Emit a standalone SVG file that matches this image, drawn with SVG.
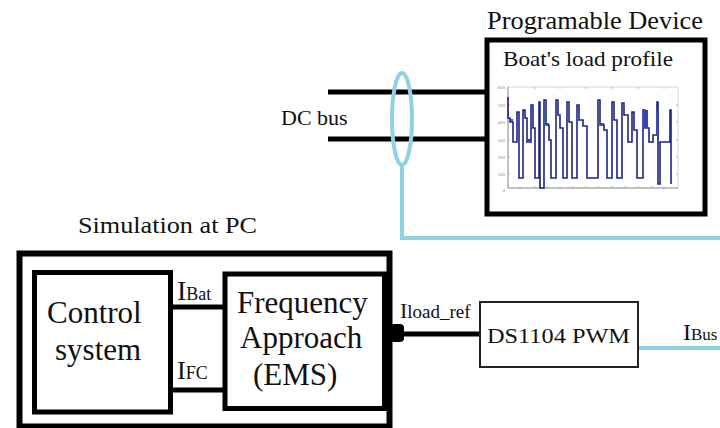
<svg xmlns="http://www.w3.org/2000/svg" width="720" height="428" viewBox="0 0 720 428" font-family="'Liberation Serif', 'Times New Roman', Tinos, 'DejaVu Serif', serif">
<style>
  text { font-family: "Liberation Serif", "Times New Roman", Tinos, "DejaVu Serif", serif; fill: #111; }
  .thick { fill: none; stroke: #000; stroke-width: 5; }
  .wire { stroke: #000; stroke-width: 5; fill: none; }
  .blue { stroke: #8fd2e4; stroke-width: 4; fill: none; }
  .tick { font-size: 5px; fill: #888; }
</style>
<rect width="720" height="428" fill="#fff"/>

<g id="programable-device">
  <text x="487" y="29" font-size="26" textLength="216" lengthAdjust="spacingAndGlyphs">Programable Device</text>
  <rect x="487" y="40" width="218" height="174" class="thick"/>
  <text x="503" y="66" font-size="21" textLength="170" lengthAdjust="spacingAndGlyphs">Boat's load profile</text>
  <g id="load-chart">
    <rect x="508" y="87" width="170" height="101" fill="none" stroke="#d4d4d4" stroke-width="1"/>
    <path d="M508,87 V188 H678" fill="none" stroke="#999" stroke-width="1"/>
    <g stroke="#aaa" stroke-width="0.8">
      <path d="M508,105 h2 M508,122 h2 M508,140 h2 M508,157 h2 M508,174 h2"/>
      <path d="M676,105 h2 M676,122 h2 M676,140 h2 M676,157 h2 M676,174 h2"/>
      <path d="M520,188 v-2 M535,188 v-2 M547,188 v-2 M560,188 v-2 M573,188 v-2 M586,188 v-2 M598,188 v-2 M612,188 v-2 M625,188 v-2 M638,188 v-2 M652,188 v-2 M664,188 v-2"/>
      <path d="M535,87 v2 M560,87 v2 M586,87 v2 M612,87 v2 M638,87 v2 M664,87 v2"/>
    </g>
    <g text-anchor="end">
      <text class="tick" x="505" y="89">600</text>
      <text class="tick" x="505" y="107">500</text>
      <text class="tick" x="505" y="124">400</text>
      <text class="tick" x="505" y="142">300</text>
      <text class="tick" x="505" y="159">200</text>
      <text class="tick" x="505" y="176">100</text>
      <text class="tick" x="505" y="192">0</text>
    </g>
    <polyline fill="none" stroke="#1c2580" stroke-width="1.6" points="508,97 508,118 510,118 510,122 513,122 513,142 517,142 517,112 519,112 519,178 523,178 523,110 525,110 525,118 527,118 527,142 531,142 531,105 533,105 533,128 535,128 535,178 539,178 539,102 540,102 540,188 544,188 544,100 546,100 546,125 549,125 549,140 551,140 551,178 556,178 556,100 558,100 558,115 560,115 560,128 563,128 563,178 567,178 567,102 569,102 569,122 572,122 572,178 577,178 577,105 579,105 579,120 583,120 583,126 587,126 587,178 598,178 598,100 600,100 600,125 604,125 604,130 607,130 607,178 612,178 612,102 614,102 614,120 617,120 617,178 622,178 622,103 624,103 624,115 628,115 628,142 632,142 632,112 634,112 634,130 637,130 637,178 643,178 643,110 645,110 645,128 649,128 649,142 653,142 653,135 657,135 657,102 658,102 658,184 660,184 660,142 670,142 670,110 671,110 671,184"/>
    <path d="M510,120 h3 M546,124 h3 M526,140 h5 M600,124 h4 M645,110 v18 M647,110 v18 M658,110 v30" stroke="#3344bb" stroke-width="2" fill="none"/>
  </g>
</g>

<g id="connectors">
  <line x1="328" y1="92" x2="487" y2="92" class="wire"/>
  <line x1="328" y1="139" x2="487" y2="139" class="wire"/>
  <ellipse cx="402" cy="119" rx="10" ry="46" class="blue"/>
  <path d="M402,165 V238 H720" class="blue"/>
  <line x1="170" y1="307" x2="225" y2="307" class="wire"/>
  <line x1="170" y1="390" x2="225" y2="390" class="wire"/>
  <line x1="388" y1="334" x2="480" y2="334" class="wire"/>
  <rect x="390" y="324" width="14" height="18" rx="4" fill="#000"/>
  <line x1="638" y1="348" x2="720" y2="348" class="blue"/>
</g>

<g id="dc-bus-label">
  <text x="281" y="125" font-size="22">DC bus</text>
</g>

<g id="simulation-pc">
  <text x="78" y="233" font-size="24" textLength="179" lengthAdjust="spacingAndGlyphs">Simulation at PC</text>
  <rect x="19.5" y="253.5" width="370" height="173" fill="none" stroke="#000" stroke-width="6"/>
</g>

<g id="control-system">
  <rect x="34.5" y="272.5" width="136" height="139.5" class="thick"/>
  <text x="47" y="323" font-size="31">Control</text>
  <text x="55" y="360" font-size="31">system</text>
</g>

<g id="frequency-approach">
  <rect x="225" y="274" width="159.5" height="134.5" class="thick"/>
  <text x="237" y="313" font-size="31">Frequency</text>
  <text x="240" y="348" font-size="31">Approach</text>
  <text x="253" y="385" font-size="31">(EMS)</text>
</g>

<g id="ds1104-pwm">
  <rect x="480" y="302" width="158" height="65" fill="#fff" stroke="#222" stroke-width="2"/>
  <text x="487" y="343" font-size="21" textLength="143" lengthAdjust="spacingAndGlyphs">DS1104 PWM</text>
</g>

<g id="signal-labels">
  <text x="177" y="300"><tspan font-size="28">I</tspan><tspan font-size="18">Bat</tspan></text>
  <text x="177" y="379"><tspan font-size="26">I</tspan><tspan font-size="18">FC</tspan></text>
  <text x="400" y="318"><tspan font-size="22">I</tspan><tspan font-size="19">load_ref</tspan></text>
  <text x="683" y="340"><tspan font-size="24">I</tspan><tspan font-size="17">Bus</tspan></text>
</g>
</svg>
